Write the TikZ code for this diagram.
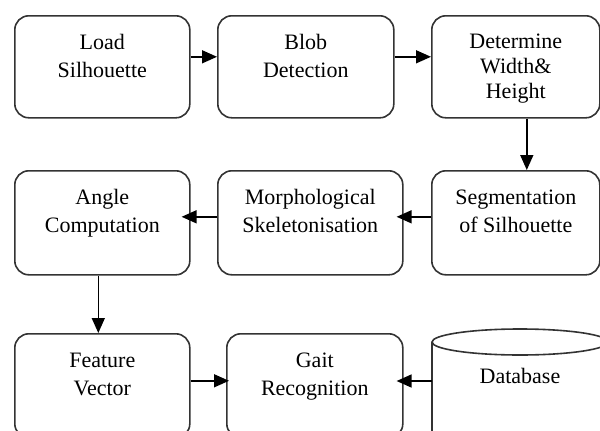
\documentclass[tikz,border=0pt]{standalone}
\usepackage{fontspec}
\setmainfont{Liberation Serif}
\usetikzlibrary{arrows.meta}
\begin{document}
\begin{tikzpicture}[x=1pt,y=-1pt,
  box/.style={draw=black!80, line width=1.6pt, rounded corners=14pt, align=center,
    inner sep=0pt, font=\fontsize{22}{28}\selectfont, text height=44pt, text depth=22pt,
    anchor=north west},
  tall/.style={text depth=24pt},
  arr/.style={draw=black, line width=1.5pt, -{Triangle[length=15pt,width=13pt]}},
  txt/.style={font=\fontsize{22}{28}\selectfont, inner sep=0pt}
]
\useasboundingbox (0,0) rectangle (600,431);
\clip (0,0) rectangle (600,431);
% row 1
\node[box, minimum width=175pt, minimum height=102pt] (load) at (14,15) {Load\\Silhouette};
\node[box, minimum width=176pt, minimum height=102pt] (blob) at (217,15) {Blob\\Detection};
\node[box, minimum width=168pt, minimum height=102pt, font=\fontsize{22}{25}\selectfont,
  text height=66pt, text depth=2pt] (det) at (431,15) {Determine\\Width\&\\Height};
% row 2
\node[box, tall, minimum width=175pt, minimum height=104pt] (angle) at (14,170) {Angle\\Computation};
\node[box, tall, minimum width=185pt, minimum height=104pt] (morph) at (217,170) {Morphological\\Skeletonisation};
\node[box, tall, minimum width=168pt, minimum height=104pt] (seg) at (431,170) {Segmentation\\of Silhouette};
% row 3
\node[box, tall, minimum width=175pt, minimum height=104pt] (feat) at (14,333) {Feature\\Vector};
\node[box, tall, minimum width=176pt, minimum height=104pt] (gait) at (226,333) {Gait\\Recognition};
% database cylinder
\draw[draw=black!80, line width=1.6pt] (432,342) -- (432,450);
\draw[draw=black!80, line width=1.6pt] (608,342) -- (608,450);
\draw[draw=black!80, line width=1.6pt] (520,342) ellipse [x radius=88, y radius=13];
\node[txt, anchor=base] (db) at (520,383) {Database};
\coordinate (dbw) at (432,381);
% connectors
\draw[arr] ([yshift=10pt]load.east) -- ([yshift=10pt]blob.west);
\draw[arr] ([yshift=10pt]blob.east) -- ([yshift=10pt]det.west);
\draw[arr] ([xshift=11pt]det.south) -- ([xshift=11pt]seg.north);
\draw[arr, shorten >=-7pt] ([yshift=6pt]seg.west) -- ([yshift=6pt]morph.east);
\draw[arr, shorten >=-9pt] ([yshift=6pt]morph.west) -- ([yshift=6pt]angle.east);
\draw[arr] ([xshift=-4pt]angle.south) -- ([xshift=-4pt]feat.north);
\draw[arr, shorten >=-3pt] ([yshift=5pt]feat.east) -- ([yshift=5pt]gait.west);
\draw[arr, shorten >=-7pt] (dbw) -- (dbw -| gait.east);
\end{tikzpicture}
\end{document}
